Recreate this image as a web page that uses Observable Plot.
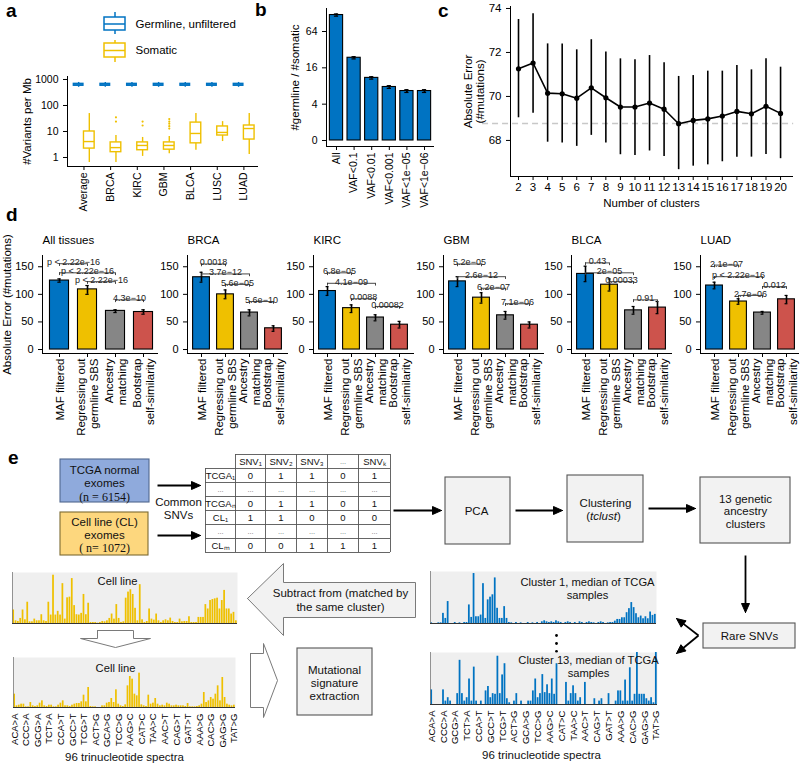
<!DOCTYPE html>
<html>
<head>
<meta charset="utf-8">
<script src="https://cdn.jsdelivr.net/npm/d3@7"></script>
<script src="https://cdn.jsdelivr.net/npm/@observablehq/plot@0.6"></script>
<style>
html,body{margin:0;padding:0;background:#fff;}
#fig{position:relative;width:800px;height:763px;overflow:hidden;background:#fff;font-family:"Liberation Sans",Arial,sans-serif;}
.pan{position:absolute;}
.pan svg{max-width:none !important;overflow:visible;display:block;}
.tag{position:absolute;font-weight:bold;font-size:19px;line-height:20px;font-family:"Liberation Sans",Arial,sans-serif;color:#000;}
</style>
</head>
<body>
<div id="fig"></div>
<script>
// ---------------- DATA ----------------
// Panel a
const aCategories = ["Average","BRCA","KIRC","GBM","BLCA","LUSC","LUAD"];
const aGermLow  = [500,500,500,500,500,500,500];
const aGermQ1   = [575,575,575,575,575,575,575];
const aGermMed  = [625,625,625,625,625,625,625];
const aGermQ3   = [680,680,680,680,680,680,680];
const aGermHigh = [770,770,770,770,770,770,770];
const aSomLow  = [0.64,0.64,1.1,1.4,1.9,4.1,1.3];
const aSomQ1   = [2.2,1.6,1.9,2.0,3.5,7.0,4.9];
const aSomMed  = [4.1,2.4,2.9,2.9,8.4,9.2,13];
const aSomQ3   = [10,3.8,3.8,3.8,22,15.6,17];
const aSomHigh = [49,7.0,5.9,6.4,49,24,49];
const aOutlierCat = [1,1,2,2,3,3,3,3,3];
const aOutlierVal = [24,35,17,24,13,16,20,24,30];

// Panel b
const bCategories = ["All","VAF<0.1","VAF<0.01","VAF<0.001","VAF<1e\u221205","VAF<1e\u221206"];
const bRatio = [120,23.5,10.9,7.7,6.6,6.6];
const bErr = [5,1.0,0.5,0.4,0.35,0.35];

// Panel c
const cClusters = [2,3,4,5,6,7,8,9,10,11,12,13,14,15,16,17,18,19,20];
const cMean = [71.26,71.52,70.15,70.12,69.92,70.39,69.94,69.52,69.52,69.70,69.42,68.76,68.91,68.98,69.11,69.32,69.21,69.55,69.23];
const cLow  = [69.03,69.24,67.92,67.88,67.73,68.23,67.88,67.35,67.32,67.52,67.27,66.67,66.83,66.89,67.03,67.24,67.24,67.36,67.17];
const cHigh = [73.50,73.76,72.39,72.39,72.12,72.58,72.02,71.71,71.67,71.86,71.53,70.91,70.95,71.15,71.15,71.41,71.21,71.71,71.33];
const cBaseline = 68.77;

// Panel d
const dTissues = ["All tissues","BRCA","KIRC","GBM","BLCA","LUAD"];
const dMethods = ["MAF filtered","Regressing out\ngermline SBS","Ancestry\nmatching","Bootstrap\nself-similarity"];
const dMean = [[125,109,70,68],[131,100,67,38.5],[106,75,58,45],[123.5,94,62,45],[137,117.5,71,76],[116,87,67,91]];
const dLow  = [[122,100,67,64],[122,92,61,33],[98,67,52,39],[114,84,55,39],[123,106,64,65],[110,82,64,83]];
const dHigh = [[128,116,72,72],[140,108,72,43],[114,81,63,51],[132,103,69,50],[151,128,78,87],[122,92,69,98]];
const dBrackets = [
  [[0,1,155.5,"p < 2.22e\u221216"],[0,2,139,"p < 2.22e\u221216"],[1,2,123,"p < 2.22e\u221216"],[2,3,90,"4.3e\u221210"]],
  [[0,1,155,"0.0018"],[0,2,137,"3.7e\u221212"],[1,2,118,"5.6e\u221205"],[2,3,87,"5.6e\u221210"]],
  [[0,1,139,"6.8e\u221205"],[0,2,120,"4.1e\u221209"],[1,2,92,"0.0088"],[2,3,78,"0.00082"]],
  [[0,1,155,"5.2e\u221205"],[0,2,132,"2.6e\u221212"],[1,2,111,"6.2e\u221207"],[2,3,83,"7.1e\u221206"]],
  [[0,1,157,"0.43"],[0,2,139,"2e\u221205"],[1,2,123,"0.00033"],[2,3,90,"0.91"]],
  [[0,1,153,"2.1e\u221207"],[0,2,132,"p < 2.22e\u221216"],[2,3,114,"0.012"],[1,2,98,"2.7e\u221206"]]
];

// Panel e spectra (96 trinucleotide channels)
const spectrumLabels = ["ACA>A","CCC>A","GCG>A","TCT>A","CCA>T","GCC>T","TCG>T","ACT>G","GCA>G","TCC>G","AAG>C","CAT>C","TAA>C","AAC>T","CAG>T","GAT>T","AAA>G","CAC>G","GAG>G","TAT>G"];
const spectrumLabelBars = [0,5,10,15,20,25,30,35,40,45,50,55,60,65,70,75,80,85,90,95];
const cellLineRaw = [40,8,6,15,40,11,63,5,5,13, 8,8,26,8,6,63,25,143,25,36, 25,118,13,76,78,133,53,26,25,30,
  86,26,60,3,3,3,1,3,6,5, 8,15,28,13,56,15,3,5,75,93, 100,86,45,8,115,11,3,6,43,13, 10,28,8,3,8,11,8,16,6,3,
  3,13,5,6,6,20,3,3,3,18, 18,18,56,43,68,71,73,75,43,68, 98,43,43,28,33,8];
const cellLineSub = [40,5,7,10,10,2,2,15,5,3, 5,13,20,5,3,7,7,2,2,7, 13,20,5,5,3,7,10,12,12,17,
  37,17,60,3,2,2,0,0,5,5, 13,15,27,15,53,10,5,3,8,65, 93,85,40,35,103,8,5,3,37,10, 13,27,10,5,7,5,13,10,5,5,
  7,5,5,5,3,12,2,2,2,3, 5,10,45,15,20,30,25,40,65,20, 90,30,10,7,5,7];
const cluster1 = [2,0,0,2,2,30,15,65,0,0, 3,0,2,0,3,3,55,18,148,20, 20,25,118,15,70,78,85,135,45,15,
  15,50,15,3,2,0,3,0,2,0, 0,3,0,2,0,3,0,5,8,5, 3,5,3,8,5,3,0,3,5,3, 0,3,0,5,3,0,3,5,3,2,
  0,3,5,3,0,2,3,3,7,12, 12,17,17,32,44,62,47,29,17,22, 14,20,14,34,24,27];
const cluster13 = [43,0,0,0,0,43,10,20,10,0, 0,32,130,32,10,20,75,10,110,10, 0,10,0,40,53,20,32,30,142,32,
  87,120,17,5,0,10,32,0,10,0, 0,10,10,40,75,20,32,88,35,58, 32,75,30,120,0,0,0,65,10,32, 55,32,10,20,0,65,0,0,0,17,
  0,10,17,0,0,32,0,0,10,40, 40,10,72,10,108,10,30,153,30,30, 30,17,10,20,5,153];

// Panel e diagram table
const eTableHeader = ["SNV\u2081","SNV\u2082","SNV\u2083","...","SNV\u2096"];
const eTableRowLabels = ["TCGA\u2081","...","TCGA\u2099","CL\u2081","...","CL\u2098"];
const eTableValues = [[0,1,1,0,1], null, [0,1,1,0,1], [1,1,0,0,0], null, [0,0,1,1,1]];

// ---------------- LAYOUT / STYLE ----------------
const blue = "#0073C2", yellow = "#EFC000", gray = "#868686", red = "#CD534C";
const dColors = [blue, yellow, gray, red];
const FONT = '"Liberation Sans", Arial, Helvetica, sans-serif';
const fig = document.getElementById("fig");
function sty(fs){ return {fontFamily: FONT, fontSize: fs + "px", color: "black", background: "transparent", overflow: "visible"}; }
function plotAt(opts, left, top){
  const svg = Plot.plot(opts);
  const d = document.createElement("div");
  d.className = "pan";
  d.style.left = left + "px"; d.style.top = top + "px";
  d.style.width = opts.width + "px"; d.style.height = opts.height + "px";
  d.appendChild(svg);
  fig.appendChild(d);
}
function tag(t, left, top){
  const d = document.createElement("div");
  d.className = "tag"; d.textContent = t;
  d.style.left = left + "px"; d.style.top = top + "px";
  fig.appendChild(d);
}

// ---------------- PANEL a ----------------
const germ = aCategories.map((c,i)=>({i, lo:aGermLow[i], q1:aGermQ1[i], med:aGermMed[i], q3:aGermQ3[i], hi:aGermHigh[i]}));
const som  = aCategories.map((c,i)=>({i, lo:aSomLow[i], q1:aSomQ1[i], med:aSomMed[i], q3:aSomQ3[i], hi:aSomHigh[i]}));
const outl = aOutlierCat.map((c,j)=>({i:c, v:aOutlierVal[j]}));
function boxMarks(data, dx, color, hw){
  return [
    Plot.ruleX(data, {x: d=>d.i+dx, y1:"lo", y2:"hi", stroke: color, strokeWidth: 1.4}),
    Plot.rect(data, {x1: d=>d.i+dx-hw, x2: d=>d.i+dx+hw, y1:"q1", y2:"q3", fill:"white", stroke: color, strokeWidth: 1.4}),
    Plot.ruleY(data, {y:"med", x1: d=>d.i+dx-hw, x2: d=>d.i+dx+hw, stroke: color, strokeWidth: 1.4})
  ];
}
plotAt({
  width: 262, height: 225, marginLeft: 67, marginRight: 5, marginTop: 76, marginBottom: 59,
  style: sty(10.5),
  x: {domain: [-0.618, 6.51], ticks: [0,1,2,3,4,5,6], tickFormat: i => aCategories[i], tickRotate: -90, tickSize: 4, tickPadding: 2, line: true, label: null},
  y: {type: "log", domain: [0.45, 1304], ticks: [1,10,100,1000], tickFormat: d => String(d), tickSize: 4, line: true, label: null},
  marks: [
    ...boxMarks(germ, -0.2, blue, 0.18),
    ...boxMarks(som, 0.2, yellow, 0.2),
    Plot.dot(outl, {x: d=>d.i+0.2, y:"v", r: 1.1, fill: yellow}),
    Plot.text(["#Variants per Mb"], {text: d=>d, frameAnchor: "left", dx: -40, rotate: -90, textAnchor: "middle", fontSize: 11.5})
  ]
}, 0, 0);

// legend for a
const legendItems = [
  {label:"Germline, unfiltered", c:blue, wlo:12, b1:17, m:23.5, b2:30, whi:34},
  {label:"Somatic", c:yellow, wlo:40, b1:43, m:50, b2:57, whi:62}
];
plotAt({
  width: 260, height: 70, margin: 0, style: sty(11.5), color: {type: "identity"},
  x: {domain: [0,260], range: [0,260], axis: null},
  y: {domain: [0,70], range: [0,70], axis: null},
  marks: [
    Plot.ruleX(legendItems, {x: 114.5, y1: "wlo", y2: "whi", stroke: "c", strokeWidth: 1.5}),
    Plot.rect(legendItems, {x1: 104, x2: 125, y1: "b1", y2: "b2", fill: "white", stroke: "c", strokeWidth: 1.5}),
    Plot.ruleY(legendItems, {y: "m", x1: 104, x2: 125, stroke: "c", strokeWidth: 1.5}),
    Plot.text(legendItems, {x: 135, y: "m", text: "label", textAnchor: "start", fill: "black"})
  ]
}, 0, 0);

// ---------------- PANEL b ----------------
const bData = bCategories.map((c,i)=>({i, v:bRatio[i], e:bErr[i]}));
plotAt({
  width: 168, height: 215, marginLeft: 56, marginRight: 5, marginTop: 8, marginBottom: 69,
  style: sty(10.5),
  x: {domain: [-0.568, 5.51], ticks: [0,1,2,3,4,5], tickFormat: i => bCategories[i], tickRotate: -90, tickSize: 4, tickPadding: 2, line: true, label: null},
  y: {type: "log", base: 2, domain: [0.795, 154], ticks: [1,4,16,64], tickFormat: d => d === 1 ? "0" : String(d), tickSize: 4, line: true, label: null},
  marks: [
    Plot.rect(bData, {x1: d=>d.i-0.375, x2: d=>d.i+0.375, y1: 1, y2: "v", fill: blue, stroke: "black", strokeWidth: 1.1}),
    Plot.ruleX(bData, {x: "i", y1: d=>d.v-d.e, y2: d=>d.v+d.e, strokeWidth: 1.8}),
    Plot.ruleY(bData, {y: d=>d.v-d.e, x1: d=>d.i-0.12, x2: d=>d.i+0.12, strokeWidth: 1.2}),
    Plot.ruleY(bData, {y: d=>d.v+d.e, x1: d=>d.i-0.12, x2: d=>d.i+0.12, strokeWidth: 1.2}),
    Plot.text(["#germline / #somatic"], {text: d=>d, frameAnchor: "left", dx: -31, rotate: -90, textAnchor: "middle", fontSize: 11.5})
  ]
}, 270, 0);

// ---------------- PANEL c ----------------
const cData = cClusters.map((k,i)=>({k, m:cMean[i], lo:cLow[i], hi:cHigh[i]}));
plotAt({
  width: 360, height: 215, marginLeft: 70, marginRight: 8, marginTop: 6, marginBottom: 39,
  style: sty(11.5),
  x: {domain: [1.45, 20.82], ticks: cClusters, tickSize: 4, tickPadding: 2, line: true, label: null},
  y: {domain: [66.36, 74.09], ticks: [68,70,72,74], tickSize: 4, line: true, label: null},
  marks: [
    Plot.ruleY([cBaseline], {x1: -0.47, x2: 20.9, stroke: "#c8c8c8", strokeWidth: 1.5, strokeDasharray: "6,4"}),
    Plot.ruleX(cData, {x: "k", y1: "lo", y2: "hi", strokeWidth: 1.6}),
    Plot.line(cData, {x: "k", y: "m", strokeWidth: 1.6}),
    Plot.dot(cData, {x: "k", y: "m", r: 2.6, fill: "black"}),
    Plot.text(["Number of clusters"], {text: d=>d, frameAnchor: "bottom", dy: 27, lineAnchor: "middle"}),
    Plot.text(["Absolute Error\n(#mutations)"], {text: d=>d, frameAnchor: "left", dx: -36, rotate: -90, textAnchor: "middle", lineAnchor: "middle", lineHeight: 1.05})
  ]
}, 440, 0);

// ---------------- PANEL d ----------------
const dAxisPageX = [42,187,313,443,571,700];
dTissues.forEach((t,k)=>{
  const A = dAxisPageX[k], first = k === 0;
  const c0 = first ? 59 : A + 14, step = first ? 28 : 24;
  const end = first ? 157 : Math.min(A + 100, 798);
  const left = A - 40, width = end - left + 2;
  const hw = first ? 0.34 : 0.35;
  const bars = dMethods.map((m,i)=>({i, m, v:dMean[k][i], lo:dLow[k][i], hi:dHigh[k][i], c:dColors[i]}));
  const br = dBrackets[k].map(([a,b,y,l])=>({a,b,y,l}));
  const marks = [
    Plot.rect(bars, {x1: d=>d.i-hw, x2: d=>d.i+hw, y1: 0, y2: "v", fill: "c", stroke: "black", strokeWidth: 1.1}),
    Plot.ruleX(bars, {x: "i", y1: "lo", y2: "hi", strokeWidth: 1.6}),
    Plot.ruleY(bars, {y: "lo", x1: d=>d.i-0.06, x2: d=>d.i+0.06, strokeWidth: 1.2}),
    Plot.ruleY(bars, {y: "hi", x1: d=>d.i-0.06, x2: d=>d.i+0.06, strokeWidth: 1.2}),
    Plot.ruleY(br, {y: "y", x1: "a", x2: "b", stroke: "#333", strokeWidth: 0.9}),
    Plot.ruleX(br, {x: "a", y1: "y", y2: d=>d.y-5, stroke: "#333", strokeWidth: 0.9}),
    Plot.ruleX(br, {x: "b", y1: "y", y2: d=>d.y-5, stroke: "#333", strokeWidth: 0.9}),
    Plot.text(br, {x: d=>(d.a+d.b)/2, y: "y", text: "l", textAnchor: "middle", lineAnchor: "bottom", dy: 1.5, fontSize: 9, fill: "#222"}),
    Plot.text(bars, {x: "i", text: "m", frameAnchor: "bottom", dy: 5, rotate: -90, textAnchor: "end", lineAnchor: "middle", lineHeight: 1.1, fontSize: 11.5}),
    Plot.text([t], {text: d=>d, frameAnchor: "top-left", dy: -15, textAnchor: "start", lineAnchor: "middle", fontSize: 11.5})
  ];
  if (first) marks.push(Plot.text(["Absolute Error (#mutations)"], {text: d=>d, frameAnchor: "left", dx: -35.5, rotate: -90, textAnchor: "middle", fontSize: 11.5}));
  plotAt({
    width, height: 215, marginLeft: 40, marginRight: width - 40 - (end - A), marginTop: 25, marginBottom: 92,
    style: sty(11), color: {type: "identity"},
    x: {domain: [(A - c0) / step, (end - c0) / step], ticks: [0,1,2,3], tickFormat: () => "", tickSize: 4, line: true, label: null},
    y: {domain: [-7.2, 170.4], ticks: [0,50,100,150], tickSize: 4, line: true, label: null},
    marks
  }, left, 230);
});

// ---------------- PANEL e : diagram ----------------
const eBoxes = [
  {x1:60,y1:459,x2:149,y2:502,fill:"#8faadc",stroke:"#50678f"},
  {x1:60,y1:512,x2:148,y2:555,fill:"#fdd77e",stroke:"#7d6b32"},
  {x1:445,y1:477,x2:510,y2:544,fill:"#f2f2f2",stroke:"#555"},
  {x1:567,y1:475,x2:643,y2:542,fill:"#f2f2f2",stroke:"#555"},
  {x1:700,y1:477,x2:790,y2:543,fill:"#f2f2f2",stroke:"#555"},
  {x1:703,y1:623,x2:795,y2:648,fill:"#f2f2f2",stroke:"#555"},
  {x1:297,y1:648,x2:372,y2:715,fill:"#f2f2f2",stroke:"#555"}
];
const eTexts = [
  {x:104,y:470,t:"TCGA normal"},{x:104,y:483,t:"exomes"},
  {x:104,y:522,t:"Cell line (CL)"},{x:104,y:535,t:"exomes"},
  {x:178,y:502,t:"Common"},{x:178,y:515,t:"SNVs"},
  {x:476,y:511,t:"PCA"},
  {x:605,y:503,t:"Clustering"},
  {x:745,y:499,t:"13 genetic"},{x:745,y:511,t:"ancestry"},{x:745,y:524,t:"clusters"},
  {x:749,y:636,t:"Rare SNVs"},
  {x:340,y:593,t:"Subtract from (matched by"},{x:340,y:607,t:"the same cluster)"},
  {x:334,y:670,t:"Mutational"},{x:334,y:683,t:"signature"},{x:334,y:696,t:"extraction"},
  {x:124,y:757,t:"96 trinucleotide spectra"},{x:541,y:755,t:"96 trinucleotide spectra"}
];
const eSerifTexts = [{x:104,y:497,t:"(n = 6154)"},{x:104,y:548,t:"( n= 1072)"}];
const eArrows = [[157,485,200,485],[157,535,200,535],[393,510,441,510],[515,510,562,510],[648,508,695,508],[745,555,745,612],[698,635,676,618],[698,635,676,653]];
const eBlocks = [
  {fill:"#f2f2f2", pts:[[247,598],[283,563],[283,582],[415,582],[415,617],[283,617],[283,635],[247,598]]},
  {fill:"#ffffff", pts:[[97,630],[133,630],[133,638],[150,638],[115,647],[80,638],[97,638],[97,630]]},
  {fill:"#ffffff", pts:[[250,653],[263,653],[263,643],[277,680],[263,717],[263,707],[250,707],[250,653]]}
];
const eTableX = [205,235,265,296,327,358,390];
const eTableY = [454,468,482,496,510,524,538,552];

const shafts = [], heads = [];
eArrows.forEach(([x1,y1,x2,y2],n)=>{
  const dx=x2-x1, dy=y2-y1, L=Math.hypot(dx,dy), ux=dx/L, uy=dy/L, len=9, half=4;
  const bx=x2-ux*len, by=y2-uy*len;
  shafts.push({x1,y1,x2:bx+ux*1,y2:by+uy*1});
  [[x2,y2],[bx-uy*half,by+ux*half],[bx+uy*half,by-ux*half],[x2,y2]].forEach(p=>heads.push({id:n,x:p[0],y:p[1]}));
});
const hLines = eTableY.map((y,j)=>({y, x1: j===0 ? eTableX[1] : eTableX[0], x2: eTableX[6]}));
const vLines = eTableX.map((x,c)=>({x, y1: c===0 ? eTableY[1] : eTableY[0], y2: eTableY[7]}));
const tableCells = [];
eTableHeader.forEach((h,c)=>tableCells.push({x:(eTableX[c+1]+eTableX[c+2])/2, y:(eTableY[0]+eTableY[1])/2, t:h}));
eTableRowLabels.forEach((r,j)=>{
  const y = (eTableY[j+1]+eTableY[j+2])/2;
  tableCells.push({x:(eTableX[0]+eTableX[1])/2, y, t:r});
  const vals = eTableValues[j];
  for (let c=0;c<5;c++) tableCells.push({x:(eTableX[c+1]+eTableX[c+2])/2, y, t: vals ? String(vals[c]) : "..."});
});

const eMarks = [];
eBlocks.forEach(b=>eMarks.push(Plot.line(b.pts, {x: p=>p[0], y: p=>p[1], fill: b.fill, stroke: "#7a7a7a", strokeWidth: 1, curve: "linear"})));
eMarks.push(
  Plot.rect(eBoxes, {x1:"x1", y1:"y1", x2:"x2", y2:"y2", fill:"fill", stroke:"stroke", strokeWidth: 1.1}),
  Plot.ruleY(hLines, {y:"y", x1:"x1", x2:"x2", stroke:"#555", strokeWidth: 0.9}),
  Plot.ruleX(vLines, {x:"x", y1:"y1", y2:"y2", stroke:"#555", strokeWidth: 0.9}),
  Plot.text(tableCells.filter(d=>d.t !== "..."), {x:"x", y:"y", text:"t", fontSize: 9.5, fill: "#111"}),
  Plot.text(tableCells.filter(d=>d.t === "..."), {x:"x", y:"y", text:"t", fontSize: 7.5, fill: "#777"}),
  Plot.link(shafts, {x1:"x1", y1:"y1", x2:"x2", y2:"y2", stroke:"black", strokeWidth: 1.8}),
  Plot.line(heads, {x:"x", y:"y", z:"id", fill:"black", stroke:"black", strokeWidth: 1, curve: "linear"}),
  Plot.text(eTexts, {x:"x", y:"y", text:"t", fontSize: 11.5, fill: "#111"}),
  Plot.text(eSerifTexts, {x:"x", y:"y", text:"t", fontSize: 12, fontFamily: '"Liberation Serif", "DejaVu Serif", serif', fill: "#111"}),
  Plot.text(["tclust"], {x: 603, y: 516, text: d=>d, fontStyle: "italic", fontSize: 11.5, fill: "#111"}),
  Plot.text(["("], {x: 589.5, y: 516, text: d=>d, textAnchor: "end", fontSize: 11.5, fill: "#111"}),
  Plot.text([")"], {x: 616.5, y: 516, text: d=>d, textAnchor: "start", fontSize: 11.5, fill: "#111"}),
  Plot.dot([635, 643, 651], {x: 556, y: d=>d, r: 1.4, fill: "black"})
);
plotAt({
  width: 800, height: 323, margin: 0, style: sty(11.5), color: {type: "identity"},
  x: {domain: [0,800], range: [0,800], axis: null},
  y: {domain: [440,763], range: [0,323], axis: null},
  marks: eMarks
}, 0, 440);

// spectra
function spectrum(values, color, left, top, w, h, ymax, title, tcx, tcy, withLabels){
  const bars = values.map((v,i)=>({i, v}));
  plotAt({
    width: w, height: h + (withLabels ? 50 : 0), marginLeft: 0, marginRight: 0, marginTop: 0, marginBottom: withLabels ? 50 : 0,
    style: sty(9.5),
    x: {domain: [0,96], axis: withLabels ? "bottom" : null, ticks: spectrumLabelBars.map(i=>i+0.5),
        tickFormat: v => spectrumLabels[spectrumLabelBars.indexOf(Math.round(v-0.5))], tickRotate: -90, tickSize: 0, tickPadding: 6, label: null},
    y: {domain: [0, ymax], axis: null},
    marks: [
      Plot.frame({fill: "#efefef", stroke: "none"}),
      Plot.rect(bars, {x1: d=>d.i, x2: d=>d.i+1, y1: 0, y2: "v", fill: color, insetLeft: 0.3, insetRight: 0.3}),
      Plot.ruleY([0], {stroke: "#333", strokeWidth: 1}),
      Plot.ruleX([0], {stroke: "#777", strokeWidth: 0.8}),
      Plot.text([title], {text: d=>d, frameAnchor: "top-left", dx: tcx, dy: tcy, textAnchor: "middle", lineAnchor: "middle", fontSize: 11.2, lineHeight: 1.15, fill: "#111"})
    ]
  }, left, top);
}
spectrum(cellLineRaw, yellow, 12, 572, 225, 51, 151, "Cell line", 105, 8, false);
spectrum(cellLineSub, yellow, 13, 657, 222, 50, 150, "Cell line", 102, 10, true);
spectrum(cluster1, blue, 430, 571, 226, 52, 154, "Cluster 1, median of TCGA\nsamples", 157, 16.5, false);
spectrum(cluster13, blue, 430, 652, 227, 52, 153, "Cluster 13, median of TCGA\nsamples", 158, 14, true);

// panel tags
tag("a", 6, 1); tag("b", 255, 0); tag("c", 438, 1); tag("d", 6, 205); tag("e", 8, 448);
</script>
</body>
</html>
